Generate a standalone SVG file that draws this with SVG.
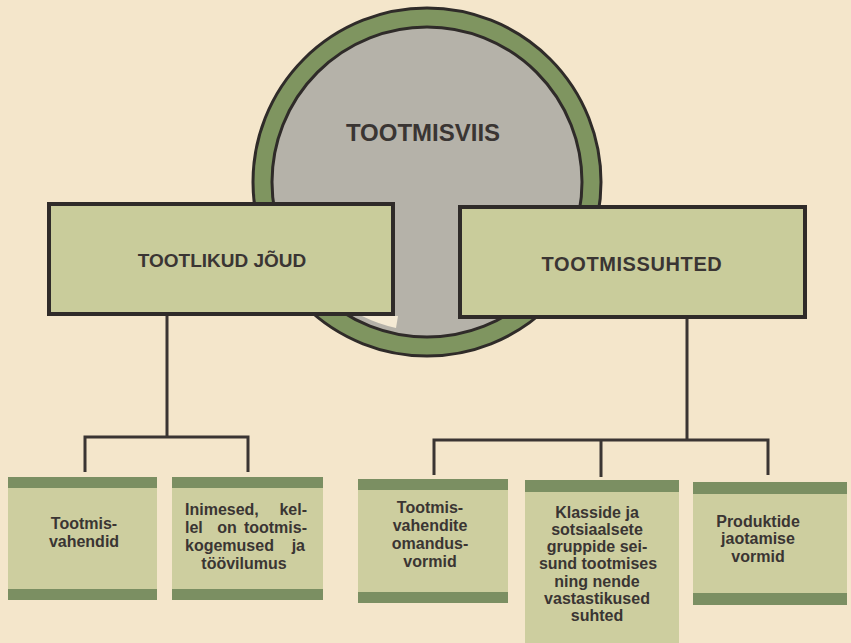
<svg xmlns="http://www.w3.org/2000/svg" width="851" height="643" viewBox="0 0 851 643">
<style>
.bg{fill:#f4e6cb}
.ring{fill:#7f9560;stroke:#2f2b29;stroke-width:3}
.core{fill:#b5b2a9;stroke:#2f2b29;stroke-width:3}
.top{fill:#c9cc9b;stroke:#2f2b29;stroke-width:4}
.card{fill:#cdce9f}
.band{fill:#7b8f62}
.conn{fill:none;stroke:#3a3533;stroke-width:3}
.t1{font-family:"Liberation Sans",Arial,sans-serif;font-weight:bold;fill:#3a3533;text-anchor:middle}
.t2{font-family:"Liberation Sans",Arial,sans-serif;font-weight:bold;font-size:16px;fill:#3a3533;text-anchor:middle}
.l{text-anchor:start}
.r{text-anchor:end}
</style>
<rect class="bg" x="0" y="0" width="851" height="643"/>
<g id="tootmisviis">
<circle class="ring" cx="427" cy="182" r="174"/>
<circle class="core" cx="427" cy="182" r="155"/>
<path d="M362 316 L398 316 L396 328 Q378 324 362 316 Z" fill="#f4ead4"/>
<text class="t1" x="423" y="141" font-size="24">TOOTMISVIIS</text>
</g>
<g id="tootlikud-joud">
<rect class="top" x="49" y="204" width="344" height="110"/>
<text class="t1" x="222" y="267" font-size="19">TOOTLIKUD JÕUD</text>
</g>
<g id="tootmissuhted">
<rect class="top" x="460" y="207" width="345" height="110"/>
<text class="t1" x="632" y="271" font-size="20" letter-spacing="0.6">TOOTMISSUHTED</text>
</g>
<g id="connectors">
<path class="conn" d="M167 316 V437 M85 472 V437 H248 V472"/>
<path class="conn" d="M687 319 V440 M434 475 V440 H768 V475 M601 440 V477"/>
</g>
<g id="tootmisvahendid">
<rect class="card" x="8" y="477" width="149" height="123"/>
<rect class="band" x="8" y="477" width="149" height="11"/>
<rect class="band" x="8" y="589" width="149" height="11"/>
<text class="t2" x="84" y="529">Tootmis-</text>
<text class="t2" x="84" y="547">vahendid</text>
</g>
<g id="inimesed">
<rect class="card" x="172" y="477" width="151" height="123"/>
<rect class="band" x="172" y="477" width="151" height="11"/>
<rect class="band" x="172" y="589" width="151" height="11"/>
<text class="t2 l" x="185" y="515">Inimesed,</text>
<text class="t2 r" x="307" y="515">kel-</text>
<text class="t2 l" x="185" y="533">lel</text>
<text class="t2" x="227" y="533">on</text>
<text class="t2 r" x="307" y="533">tootmis-</text>
<text class="t2 l" x="185" y="551">kogemused</text>
<text class="t2 r" x="305" y="551">ja</text>
<text class="t2" x="244" y="569">töövilumus</text>
</g>
<g id="omandusvormid">
<rect class="card" x="358" y="479" width="150" height="124"/>
<rect class="band" x="358" y="479" width="150" height="11"/>
<rect class="band" x="358" y="592" width="150" height="11"/>
<text class="t2" x="430" y="513">Tootmis-</text>
<text class="t2" x="430" y="531">vahendite</text>
<text class="t2" x="430" y="549">omandus-</text>
<text class="t2" x="430" y="567">vormid</text>
</g>
<g id="klassid">
<rect class="card" x="525" y="480" width="154" height="163"/>
<rect class="band" x="525" y="480" width="154" height="12"/>
<text class="t2" x="597" y="518">Klasside ja</text>
<text class="t2" x="597" y="535">sotsiaalsete</text>
<text class="t2" x="597" y="552">gruppide sei-</text>
<text class="t2" x="598" y="569">sund tootmises</text>
<text class="t2" x="597" y="587">ning nende</text>
<text class="t2" x="597" y="604">vastastikused</text>
<text class="t2" x="597" y="621">suhted</text>
</g>
<g id="jaotamine">
<rect class="card" x="693" y="482" width="154" height="123"/>
<rect class="band" x="693" y="482" width="154" height="12"/>
<rect class="band" x="693" y="593" width="154" height="12"/>
<text class="t2" x="758" y="527">Produktide</text>
<text class="t2" x="758" y="544">jaotamise</text>
<text class="t2" x="758" y="562">vormid</text>
</g>
</svg>
